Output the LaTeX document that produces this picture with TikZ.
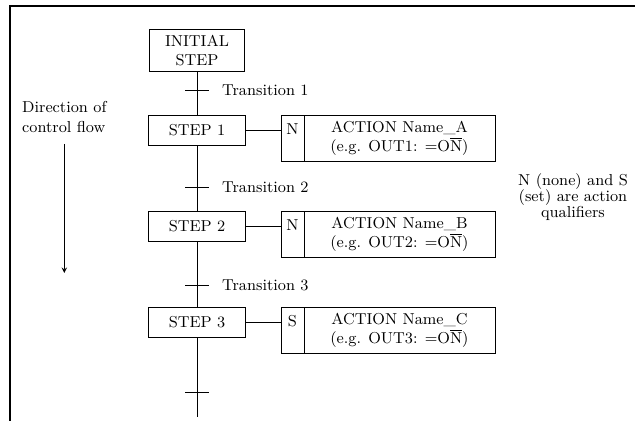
\documentclass[tikz,border=0pt]{standalone}
\usepackage{amsmath,amssymb}
\usepackage{xcolor}
\usetikzlibrary{arrows,positioning,calc}

\begin{document}
\begin{tikzpicture}[x=0.02cm, y=-0.02cm, font=\small, >=stealth]
    \tikzset{
      stepbox/.style={draw, minimum width=1.94cm, minimum height=0.6cm, inner sep=1pt, anchor=north},
      qualbox/.style={draw, minimum width=0.46cm, minimum height=0.92cm, inner sep=0pt, outer sep=0pt, anchor=north west},
      actbox/.style={draw, minimum width=3.82cm, minimum height=0.92cm, inner sep=1pt, outer sep=0pt, anchor=north west, align=center},
      trans/.style={anchor=west},
    }
    \useasboundingbox (0,0) rectangle (635,421);
    \draw[line width=1.2pt] (10,421) -- (10,6) -- (635,6);

    \node[stepbox, minimum width=1.9cm, minimum height=0.84cm, align=center] (init) at (197,29) {INITIAL\\STEP};
    \node[stepbox] (s1) at (197,115) {STEP 1};
    \node[stepbox] (s2) at (197,211) {STEP 2};
    \node[stepbox] (s3) at (197,307) {STEP 3};
    \coordinate (send) at (197,417);

    \node[qualbox] (q1) at (281,115) {};
    \node[qualbox] (q2) at (281,211) {};
    \node[qualbox] (q3) at (281,307) {};
    \node (n1) at (292.5,129) {N};
    \node (n2) at (292.5,225) {N};
    \node (n3) at (292.5,321) {S};

    \node[actbox] (a1) at (q1.north east) {ACTION Name\_A\\(e.g. OUT1: =O$\overline{\mbox{N}}$)};
    \node[actbox] (a2) at (q2.north east) {ACTION Name\_B\\(e.g. OUT2: =O$\overline{\mbox{N}}$)};
    \node[actbox] (a3) at (q3.north east) {ACTION Name\_C\\(e.g. OUT3: =O$\overline{\mbox{N}}$)};

    \draw (init) -- (s1);
    \draw (s1) -- (s2);
    \draw (s2) -- (s3);
    \draw (s3) -- (send);
    \draw (s1.east) -- (s1.east -| q1.west);
    \draw (s2.east) -- (s2.east -| q2.west);
    \draw (s3.east) -- (s3.east -| q3.west);

    \foreach \y/\n in {90/1, 187/2, 285/3} {
      \draw (185,\y) -- (209,\y);
      \node[trans] (tr\n) at (216,\y) {Transition \n};
    }
    \draw (185,392) -- (209,392);

    \node[align=left, anchor=west] (dir) at (16,117) {Direction of\\control flow};
    \coordinate (flowend) at (66,273);
    \draw[->, shorten <=3pt] (dir.south) -- (dir.south |- flowend);

    \node[align=center] (qnote) at (573,197) {N (none) and S\\[-2pt](set) are action\\[-2pt]qualifiers};
  \end{tikzpicture}
\end{document}
